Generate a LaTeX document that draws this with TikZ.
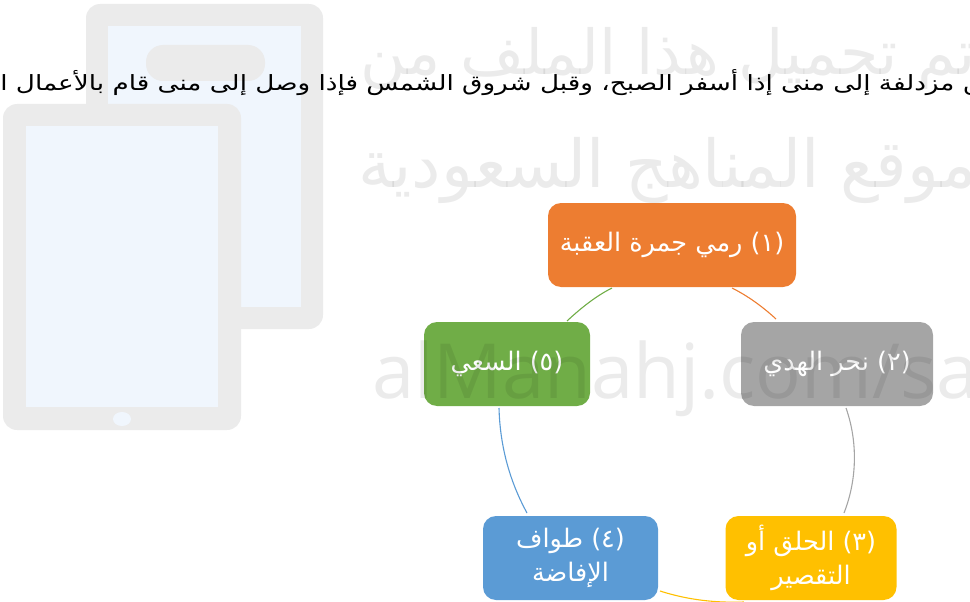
\documentclass[tikz,border=0pt]{standalone}
\usepackage{fontspec}
\setmainfont{DejaVu Sans}
\newfontfamily\arabicfont[Script=Arabic]{DejaVu Sans}
\newfontfamily\arabicwide[Script=Arabic,FakeStretch=1.25]{DejaVu Sans}
\newfontfamily\latinwm{Open Sans}
\TeXXeTstate=1
\definecolor{wmgray}{HTML}{EBEBEB}
\definecolor{wmblue}{HTML}{F0F6FD}
\definecolor{cOrange}{HTML}{ED7D31}
\definecolor{cGray}{HTML}{A5A5A5}
\definecolor{cGold}{HTML}{FFC000}
\definecolor{cBlue}{HTML}{5B9BD5}
\definecolor{cGreen}{HTML}{70AD47}
\tikzset{
  x=1pt,y=-1pt,
  stepbox/.style={rounded corners=13pt,minimum height=84pt,inner sep=0pt,text=white,align=center,font=\arabicfont\fontsize{25.5}{34}\selectfont},
  link/.style={line width=1.1pt},
  wmtext/.style={text=black,text opacity=.08,inner sep=0pt}
}
\begin{document}
\begin{tikzpicture}
\useasboundingbox (0,0) rectangle (970,602);
\clip (0,0) rectangle (970,602);
% watermark tablets
\fill[wmgray,rounded corners=14pt] (86,4) rectangle (323,329);
\fill[wmblue] (108,26) rectangle (301,307);
\fill[wmgray,rounded corners=17pt] (146,45) rectangle (265,81);
\fill[wmgray,rounded corners=14pt] (3,104) rectangle (241,430);
\fill[wmblue] (26,126) rectangle (218,407);
\fill[wmblue] (122,419) ellipse (9pt and 7pt);
% connectors
\coordinate (a1) at (732,288);\coordinate (a2) at (776,319);
\coordinate (b1) at (846,408);\coordinate (b2) at (844,513);
\coordinate (c1) at (660,591);\coordinate (c2) at (744,602);
\coordinate (d1) at (527,513);\coordinate (d2) at (499,408);
\coordinate (e1) at (567,321);\coordinate (e2) at (612,288);
\draw[link,cOrange] (a1) .. controls (748,296) and (763,307) .. (a2);
\draw[link,cGray] (b1) .. controls (858,442) and (857,480) .. (b2);
\draw[link,cGold] (c1) .. controls (688,600) and (716,603) .. (c2);
\draw[link,cBlue] (d1) .. controls (509,480) and (500,445) .. (d2);
\draw[link,cGreen] (e1) .. controls (581,308) and (596,296) .. (e2);
% boxes
\node[stepbox,fill=cOrange,minimum width=248pt] (s1) at (672,245) {\beginR (١) رمي جمرة العقبة\endR};
\node[stepbox,fill=cGray,minimum width=192pt] (s2) at (837,364) {\beginR (٢) نحر الهدي\endR};
\node[stepbox,fill=cGold,minimum width=171pt] (s3) at (811,558) {\beginR (٣) الحلق أو\endR\\\beginR التقصير\endR};
\node[stepbox,fill=cBlue,minimum width=175pt] (s4) at (570.5,558) {\beginR (٤) طواف\endR\\\beginR الإفاضة\endR};
\node[stepbox,fill=cGreen,minimum width=166pt] (s5) at (507,364) {\beginR (٥) السعي\endR};
% watermark text, over the boxes
\node[wmtext,anchor=west,font=\arabicfont\fontsize{62}{70}\selectfont] (wm1) at (360,59) {\beginR تم تحميل هذا الملف من\endR};
\node[wmtext,anchor=west,font=\arabicfont\fontsize{66}{70}\selectfont] (wm2) at (358,170) {\beginR موقع المناهج السعودية\endR};
\node[wmtext,anchor=base west,font=\latinwm\fontsize{76}{80}\selectfont] (wm3) at (372,398) {alManahj.com/sa};
% main line
\node[anchor=center,inner sep=0pt,font=\arabicwide\fontsize{21}{26}\selectfont] (lead) at (521,83) {\beginR ثم يدفع من مزدلفة إلى منى إذا أسفر الصبح، وقبل شروق الشمس فإذا وصل إلى منى قام بالأعمال الآتية\endR};
\end{tikzpicture}
\end{document}
